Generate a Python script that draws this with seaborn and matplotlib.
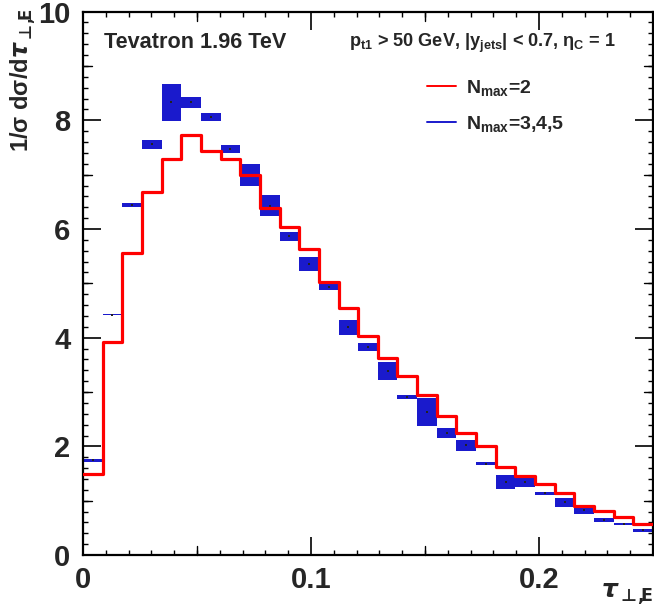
import numpy as np
import pandas as pd
import seaborn as sns
import matplotlib
matplotlib.use("Agg")
import matplotlib.pyplot as plt
from matplotlib.ticker import MultipleLocator, FixedLocator, FuncFormatter
from matplotlib.lines import Line2D

# ---------------- data ----------------
n_bins = 29
x_min, x_max = 0.0, 0.25
# N_max = 2 (red step histogram), one value per bin
red_vals = [1.50, 3.92, 5.56, 6.68, 7.29, 7.73, 7.435, 7.29, 7.00, 6.39,
            6.03, 5.63, 5.02, 4.545, 4.04, 3.62, 3.30, 2.95, 2.565, 2.25,
            2.01, 1.63, 1.46, 1.31, 1.14, 0.90, 0.82, 0.71, 0.57]
# N_max = 3,4,5 (blue bands): lower / upper edge per bin
blue_lo = [1.72, 4.41, 6.40, 7.48, 7.99, 8.23, 7.99, 7.40, 6.80, 6.23,
           5.785, 5.23, 4.87, 4.055, 3.76, 3.23, 2.88, 2.38, 2.16, 1.92,
           1.66, 1.22, 1.26, 1.11, 0.89, 0.76, 0.60, 0.55, 0.43]
blue_hi = [1.77, 4.44, 6.48, 7.64, 8.67, 8.43, 8.13, 7.545, 7.20, 6.625,
           5.945, 5.485, 5.00, 4.325, 3.90, 3.55, 2.95, 2.89, 2.34, 2.12,
           1.71, 1.47, 1.42, 1.16, 1.05, 0.885, 0.68, 0.59, 0.485]
x_ticks = [0.0, 0.1, 0.2]
y_ticks = [0, 2, 4, 6, 8, 10]

RED = "#ff0000"
BLUE = "#1a1acc"

# ---------------- style ----------------
sns.set_theme(style="white")
plt.rcParams["font.family"] = ["Liberation Sans", "DejaVu Sans"]
plt.rcParams["font.weight"] = "bold"
plt.rcParams["mathtext.fontset"] = "custom"
plt.rcParams["mathtext.rm"] = "Liberation Sans:bold"
plt.rcParams["mathtext.it"] = "Liberation Sans:bold"
plt.rcParams["mathtext.bf"] = "Liberation Sans:bold"
plt.rcParams["mathtext.sf"] = "Liberation Sans:bold"

W, H = 654, 615
fig = plt.figure(figsize=(W / 100, H / 100), dpi=100)
ax_l, ax_r, ax_t, ax_b = 83, 653, 11.6, 555.1
ax = fig.add_axes([ax_l / W, 1 - ax_b / H, (ax_r - ax_l) / W, (ax_b - ax_t) / H])

edges = np.linspace(x_min, x_max, n_bins + 1)
width = edges[1] - edges[0]
centers = edges[:-1] + width / 2

# blue bands
lo = np.array(blue_lo)
hi = np.array(blue_hi)
ax.bar(edges[:-1], hi - lo, bottom=lo, width=width, align="edge",
       color=BLUE, linewidth=0, zorder=2)
# tiny central markers
sns.scatterplot(x=centers, y=(lo + hi) / 2, ax=ax, s=2, color="#222222",
                marker="s", linewidth=0, zorder=3, legend=False)

# red step histogram
df_red = pd.DataFrame({"x": edges, "y": list(red_vals) + [red_vals[-1]]})
sns.lineplot(data=df_red, x="x", y="y", ax=ax, color=RED, linewidth=2.3,
             drawstyle="steps-post", zorder=4, estimator=None, sort=False)

ax.set_xlim(x_min, x_max)
ax.set_ylim(0, 10)
ax.set_xlabel("")
ax.set_ylabel("")

# spines
for s in ax.spines.values():
    s.set_visible(True)
    s.set_linewidth(1.6)
    s.set_color("black")

# ticks
ax.xaxis.set_major_locator(FixedLocator(x_ticks))
ax.xaxis.set_minor_locator(MultipleLocator(0.01))
ax.yaxis.set_major_locator(FixedLocator(y_ticks))
ax.yaxis.set_minor_locator(MultipleLocator(0.2))
ax.xaxis.set_major_formatter(FuncFormatter(lambda v, p: "0" if abs(v) < 1e-9 else f"{v:.1f}"))
ax.yaxis.set_major_formatter(FuncFormatter(lambda v, p: f"{int(round(v))}"))
ax.tick_params(which="both", direction="in", top=True, right=True,
               bottom=True, left=True, color="black")
ax.tick_params(which="major", length=13, width=1.2, labelsize=21)
ax.tick_params(axis="x", which="major", pad=8)
ax.tick_params(axis="y", which="major", pad=9)
ax.tick_params(which="minor", length=3.3, width=1.0)
for lab in ax.get_xticklabels() + ax.get_yticklabels():
    lab.set_fontweight("bold")

# medium ticks (ROOT-like secondary divisions)
ph = ax_b - ax_t
pw = ax_r - ax_l
xt = ax.get_xaxis_transform()
for xm in [0.05, 0.15, 0.25]:
    ax.plot([xm, xm], [0, 9 / ph], transform=xt, color="black", lw=1.0, clip_on=False, zorder=5)
    ax.plot([xm, xm], [1, 1 - 9 / ph], transform=xt, color="black", lw=1.0, clip_on=False, zorder=5)
yt = ax.get_yaxis_transform()
for ym in [1, 3, 5, 7, 9]:
    ax.plot([0, 9 / pw], [ym, ym], transform=yt, color="black", lw=1.0, clip_on=False, zorder=5)
    ax.plot([1, 1 - 9 / pw], [ym, ym], transform=yt, color="black", lw=1.0, clip_on=False, zorder=5)

# texts
fig.text(104 / W, 1 - 48.5 / H, "Tevatron 1.96 TeV", fontsize=15.6,
         fontweight="bold", ha="left", va="baseline")
fig.text(349 / W, 1 - 47 / H,
         r"p$_{\mathregular{t1}}$ > 50 GeV, |y$_{\mathregular{jets}}$| < 0.7, $\eta_{\mathregular{C}}$ = 1",
         fontsize=13.1, fontweight="bold", ha="left", va="baseline")

# legend
handles = [Line2D([], [], color=RED, lw=1.4),
           Line2D([], [], color=BLUE, lw=1.4)]
labels = [r"N$_{\mathregular{max}}$=2", r"N$_{\mathregular{max}}$=3,4,5"]
leg = ax.legend(handles, labels, loc="upper left",
                bbox_to_anchor=((427 - ax_l) / pw, 1 - (78 - ax_t) / ph),
                frameon=False, fontsize=14, handlelength=1.5,
                handletextpad=0.5, labelspacing=0.8, borderpad=0,
                borderaxespad=0)
for t in leg.get_texts():
    t.set_fontweight("bold")

# axis titles
sub = r"\bot\!\mathbf{,}\!\mathbf{E}"
fig.text(23 / W, 1 - 8 / H, r"1/σ dσ/d$\tau_{" + sub + "}$",
         rotation=90, fontsize=17, fontweight="bold", ha="center", va="top",
         math_fontfamily="dejavusans")
fig.text(654 / W, 1 - 598 / H, r"$\tau_{" + sub + "}$",
         fontsize=18, fontweight="bold", ha="right", va="baseline",
         math_fontfamily="dejavusans")

fig.savefig("out.png", dpi=100)
